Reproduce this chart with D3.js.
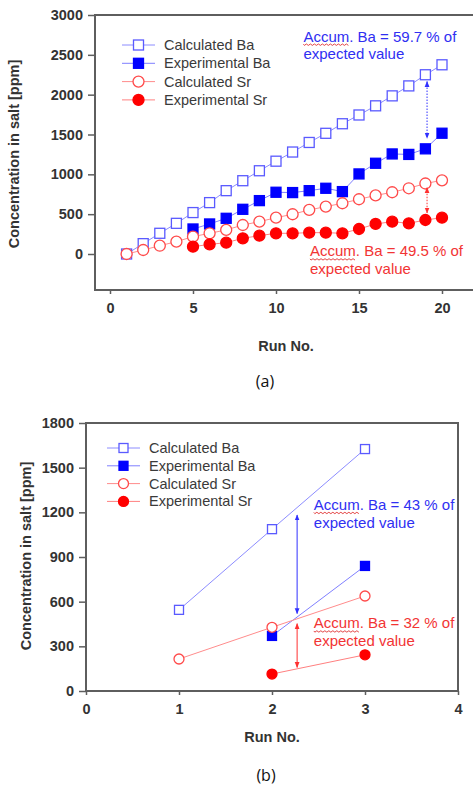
<!DOCTYPE html>
<html><head><meta charset="utf-8">
<script src="https://cdn.jsdelivr.net/npm/d3@7"></script>
<style>
html,body{margin:0;padding:0;background:#fff;}
svg{display:block;}
</style></head>
<body>
<svg id="c" width="473" height="787"></svg>
<script>
// ---------- Data: chart (a) ----------
const runsA = d3.range(1, 21);
const calcBaA = [0,130,260,385,520,645,795,920,1045,1165,1280,1400,1515,1635,1745,1860,1985,2110,2250,2375];
const expRunsA = d3.range(5, 21);
const expBaA = [314,377,448,561,670,775,771,795,825,783,1005,1139,1256,1250,1320,1516];
const calcSrA = [0,50,104,155,218,260,302,364,406,456,499,553,595,637,687,735,775,825,885,925];
const expSrA = [92,121,142,197,230,260,260,268,268,260,314,377,406,385,427,456];
const xTicksA = [0,5,10,15,20];
const yTicksA = [0,500,1000,1500,2000,2500,3000];

// ---------- Data: chart (b) ----------
const runsB = [1,2,3];
const calcBaB = [545,1087,1625];
const expRunsB = [2,3];
const expBaB = [370,840];
const calcSrB = [215,428,638];
const expSrB = [114,243];
const xTicksB = [0,1,2,3,4];
const yTicksB = [0,300,600,900,1200,1500,1800];

const legendLabels = ["Calculated Ba","Experimental Ba","Calculated Sr","Experimental Sr"];
const seriesNames = ["calcBa","expBa","calcSr","expSr"];

// annotations (data units)
const arrowsA = [{x:19.1, y1:2165, y2:1455, c:"blue", dash:true},{x:19.1, y1:832, y2:515, c:"red", dash:true}];
const notesA = [{x:11.65, y:2665, lines:["Accum. Ba = 59.7 % of","expected value"], c:"blue"},
                {x:12.05, y:-30, lines:["Accum. Ba = 49.5 % of","expected value"], c:"red"}];
const arrowsB = [{x:2.27, y1:1182, y2:520, c:"blue", dash:false},{x:2.27, y1:452, y2:158, c:"red", dash:false}];
const notesB = [{x:2.45, y:1216, lines:["Accum. Ba = 43 % of","expected value"], c:"blue"},
                {x:2.45, y:420, lines:["Accum. Ba = 32 % of","expected value"], c:"red"}];

// ---------- Styles ----------
const style = {
  calcBa:{line:"#8c8cff", stroke:"#5a5aff", fill:"#fff", shape:"square"},
  expBa:{line:"#7f7fff", stroke:"#0000ff", fill:"#0000ff", shape:"square"},
  calcSr:{line:"#ff8c8c", stroke:"#ff4a4a", fill:"#fff", shape:"circle"},
  expSr:{line:"#ff8080", stroke:"#ff0000", fill:"#ff0000", shape:"circle"}
};
const noteColor = {blue:"#2f2ff2", red:"#f23434"};
const arrowColor = {blue:"#3030ff", red:"#ff3030"};

const svg = d3.select("#c");
const defs = svg.append("defs");
["blue","red"].forEach(c=>{
  defs.append("marker").attr("id","ah-"+c).attr("viewBox","0 0 10 10").attr("refX",9).attr("refY",5)
    .attr("markerWidth",6).attr("markerHeight",6).attr("orient","auto-start-reverse")
    .append("path").attr("d","M0,1 L10,5 L0,9 Z").attr("fill",arrowColor[c]);
});

const FONT = "'Liberation Sans', Arial, sans-serif";

function drawMarker(g, shape, cx, cy, size, st){
  if(shape==="square"){
    g.append("rect").attr("x",cx-size/2).attr("y",cy-size/2).attr("width",size).attr("height",size)
      .attr("fill",st.fill).attr("stroke",st.stroke).attr("stroke-width",1.3);
  } else {
    g.append("circle").attr("cx",cx).attr("cy",cy).attr("r",size/2)
      .attr("fill",st.fill).attr("stroke",st.stroke).attr("stroke-width",1.3);
  }
}

function chart(cfg){
  const g = svg.append("g");
  const x = d3.scaleLinear().domain(cfg.xDomain).range(cfg.xRange);
  const y = d3.scaleLinear().domain(cfg.yDomain).range(cfg.yRange);
  // frame
  g.append("rect").attr("x",cfg.frame[0]).attr("y",cfg.frame[1])
    .attr("width",cfg.frame[2]-cfg.frame[0]).attr("height",cfg.frame[3]-cfg.frame[1])
    .attr("fill","none").attr("stroke","#5e5e5e").attr("stroke-width",2);
  // y axis
  const ya = g.append("g").attr("transform",`translate(${cfg.frame[0]},0)`)
    .call(d3.axisLeft(y).tickValues(cfg.yTicks).tickSize(7).tickPadding(5).tickFormat(d3.format("d")));
  ya.select(".domain").remove();
  ya.selectAll("line").attr("stroke","#5e5e5e").attr("stroke-width",1.5);
  ya.selectAll("text").attr("font-family",FONT).attr("font-size",cfg.tickFont).attr("font-weight","bold").attr("fill","#333");
  // x axis
  const xa = g.append("g").attr("transform",`translate(0,${cfg.frame[3]})`)
    .call(d3.axisBottom(x).tickValues(cfg.xTicks).tickSize(4).tickPadding(cfg.xPad).tickFormat(d3.format("d")));
  xa.select(".domain").remove();
  xa.selectAll("line").attr("stroke","#5e5e5e").attr("stroke-width",1.5);
  xa.selectAll("text").attr("font-family",FONT).attr("font-size",cfg.tickFont).attr("font-weight","bold").attr("fill","#333");
  // titles
  g.append("text").attr("x",cfg.xTitle[0]).attr("y",cfg.xTitle[1]).attr("text-anchor","middle")
    .attr("font-family",FONT).attr("font-size",14.5).attr("font-weight","bold").attr("fill","#333").text("Run No.");
  g.append("text").attr("transform",`translate(${cfg.yTitle[0]},${cfg.yTitle[1]}) rotate(-90)`)
    .attr("text-anchor","middle").attr("dominant-baseline","middle")
    .attr("font-family",FONT).attr("font-size",14.5).attr("font-weight","bold").attr("fill","#333")
    .text("Concentration in salt [ppm]");
  // series
  const line = d3.line().x(d=>x(d[0])).y(d=>y(d[1]));
  cfg.series.forEach(s=>{
    const st = style[s.name];
    const pts = s.xs.map((v,i)=>[v,s.ys[i]]);
    g.append("path").attr("d",line(pts)).attr("fill","none").attr("stroke",st.line).attr("stroke-width",1);
    const mg = g.append("g");
    pts.forEach(p=>drawMarker(mg, st.shape, x(p[0]), y(p[1]), st.shape==="square"?cfg.sq:cfg.circ, st));
  });
  // arrows
  cfg.arrows.forEach(a=>{
    g.append("line").attr("x1",x(a.x)).attr("x2",x(a.x)).attr("y1",y(a.y1)).attr("y2",y(a.y2))
      .attr("stroke",arrowColor[a.c]).attr("stroke-width",1)
      .attr("stroke-dasharray",a.dash?"1.5,1.5":null)
      .attr("marker-start","url(#ah-"+a.c+")").attr("marker-end","url(#ah-"+a.c+")");
  });
  // notes
  cfg.notes.forEach(n=>{
    const t = g.append("text").attr("font-family",FONT).attr("font-size",cfg.noteFont).attr("fill",noteColor[n.c]);
    n.lines.forEach((l,i)=>{
      t.append("tspan").attr("x",x(n.x)).attr("y",y(n.y)+i*cfg.noteLH).text(l);
    });
    const node = t.node();
    const w = node.getSubStringLength(0,5);
    const x0 = x(n.x), yb = y(n.y)+2.5;
    let d = `M${x0},${yb}`;
    for(let k=0;k<w;k+=2){ d += ` L${x0+k+1},${yb+((k/2)%2===0?1.2:-0.2)}`; }
    g.append("path").attr("d",d).attr("fill","none").attr("stroke","#e03030").attr("stroke-width",0.9);
  });
  // legend
  const lg = g.append("g");
  legendLabels.forEach((lab,i)=>{
    const st = style[seriesNames[i]];
    const yy = cfg.legend.y + i*cfg.legend.dy;
    lg.append("line").attr("x1",cfg.legend.x1).attr("x2",cfg.legend.x2).attr("y1",yy).attr("y2",yy)
      .attr("stroke",st.line).attr("stroke-width",1);
    drawMarker(lg, st.shape, (cfg.legend.x1+cfg.legend.x2)/2, yy, st.shape==="square"?cfg.sq:cfg.circ, st);
    lg.append("text").attr("x",cfg.legend.tx).attr("y",yy).attr("dominant-baseline","central")
      .attr("font-family",FONT).attr("font-size",14.5).attr("fill","#3a3a3a").text(lab);
  });
  // caption
  g.append("text").attr("x",cfg.cap[0]).attr("y",cfg.cap[1]).attr("text-anchor","middle")
    .attr("dominant-baseline","central").attr("font-family","'Open Sans', sans-serif").attr("font-size",16)
    .attr("fill","#111").text(cfg.capText);
}

chart({
  xDomain:[0,20], xRange:[110,442], yDomain:[0,3000], yRange:[254,15],
  frame:[95,15,476,290], xTicks:xTicksA, yTicks:yTicksA, tickFont:14.5, xPad:9,
  xTitle:[286,351], yTitle:[15,154], sq:10, circ:11,
  series:[{name:"calcBa",xs:runsA,ys:calcBaA},{name:"expBa",xs:expRunsA,ys:expBaA},
          {name:"calcSr",xs:runsA,ys:calcSrA},{name:"expSr",xs:expRunsA,ys:expSrA}],
  arrows:arrowsA, notes:notesA, noteFont:15, noteLH:17.5,
  legend:{x1:122,x2:155,tx:164,y:45,dy:18.3},
  cap:[265,381], capText:"(a)"
});
chart({
  xDomain:[0,4], xRange:[86,458], yDomain:[0,1800], yRange:[691,423],
  frame:[86,423,458,691], xTicks:xTicksB, yTicks:yTicksB, tickFont:14.5, xPad:9,
  xTitle:[272,742], yTitle:[27,556], sq:9, circ:10,
  series:[{name:"calcBa",xs:runsB,ys:calcBaB},{name:"expBa",xs:expRunsB,ys:expBaB},
          {name:"calcSr",xs:runsB,ys:calcSrB},{name:"expSr",xs:expRunsB,ys:expSrB}],
  arrows:arrowsB, notes:notesB, noteFont:15, noteLH:18,
  legend:{x1:107,x2:140,tx:149,y:448,dy:17.8},
  cap:[266,775], capText:"(b)"
});
</script>
</body></html>
